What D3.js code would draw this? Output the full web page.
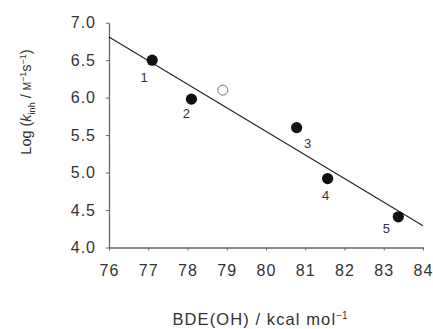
<!DOCTYPE html>
<html>
<head>
<meta charset="utf-8">
<script src="https://cdn.jsdelivr.net/npm/d3@7"></script>
<style>
  body { margin: 0; background: #fff; }
  text { font-family: Arial, "Liberation Sans", Helvetica, sans-serif; }
</style>
</head>
<body>
<div id="chart"></div>
<script>
const width = 433;
const height = 329;

// data
const labels = ["1", "2", "3", "4", "5"];
const bde = [77.1, 78.1, 80.78, 81.57, 83.37];
const logk = [6.5, 5.98, 5.60, 4.92, 4.41];
const openBde = [78.9];
const openLogk = [6.10];
const fitX = [76, 84];
const fitY = [6.81, 4.29];
const xTicks = [76, 77, 78, 79, 80, 81, 82, 83, 84];
const yTicks = [4.0, 4.5, 5.0, 5.5, 6.0, 6.5, 7.0];

// label offsets for each numbered point
const labelDx = [-8, -5, 11, -2, -12];
const labelDy = [18, 15, 16, 17, 12];

var xScale = d3.scaleLinear().domain([76, 84]).range([109, 423]);
var yScale = d3.scaleLinear().domain([4, 7]).range([247.5, 22.7]);

var svg = d3.select('#chart')
    .append('svg')
    .attr('width', width)
    .attr('height', height);

// axes
var xAxis = svg.append('g')
    .attr('transform', `translate(0, ${yScale(4)})`)
    .call(d3.axisBottom(xScale).tickValues(xTicks).tickSize(3).tickPadding(14).tickFormat(d3.format('d')).tickSizeOuter(0));

var yAxis = svg.append('g')
    .attr('transform', `translate(${xScale(76)}, 0)`)
    .call(d3.axisLeft(yScale).tickValues(yTicks).tickSize(3).tickPadding(10).tickFormat(d3.format('.1f')).tickSizeOuter(0));

[xAxis, yAxis].forEach(function(ax) {
    ax.select('.domain').attr('stroke', '#666').attr('stroke-width', 1.3);
    ax.selectAll('.tick line').attr('stroke', '#666');
    ax.selectAll('.tick text')
        .attr('fill', '#333')
        .attr('font-size', '16px')
        .attr('letter-spacing', '1px')
        .attr('font-family', 'Arial, "Liberation Sans", sans-serif');
});

// regression line
svg.append('line')
    .attr('x1', xScale(fitX[0]))
    .attr('y1', yScale(fitY[0]))
    .attr('x2', xScale(fitX[1]))
    .attr('y2', yScale(fitY[1]))
    .attr('stroke', '#222')
    .attr('stroke-width', 1.1);

// open point
svg.selectAll('.open')
    .data(openBde)
    .join('circle')
    .attr('class', 'open')
    .attr('cx', d => xScale(d))
    .attr('cy', (d, i) => yScale(openLogk[i]))
    .attr('r', 5)
    .attr('fill', '#fff')
    .attr('stroke', '#777')
    .attr('stroke-width', 1);

// filled points
svg.selectAll('.pt')
    .data(bde)
    .join('circle')
    .attr('class', 'pt')
    .attr('cx', d => xScale(d))
    .attr('cy', (d, i) => yScale(logk[i]))
    .attr('r', 5.6)
    .attr('fill', '#111');

svg.selectAll('.lbl')
    .data(labels)
    .join('text')
    .attr('class', 'lbl')
    .attr('x', (d, i) => xScale(bde[i]) + labelDx[i])
    .attr('y', (d, i) => yScale(logk[i]) + labelDy[i] + 4)
    .attr('text-anchor', 'middle')
    .attr('font-size', '13px')
    .attr('fill', '#333')
    .text(d => d);

// x title
var xt = svg.append('text')
    .attr('x', 260)
    .attr('y', 325)
    .attr('text-anchor', 'middle')
    .attr('font-size', '16.5px')
    .attr('letter-spacing', '1.1px')
    .attr('fill', '#333');
xt.append('tspan').text('BDE(OH) / kcal mol');
xt.append('tspan').attr('dy', -6).attr('font-size', '10px').attr('letter-spacing', '0px').text('\u22121');

// y title
var yt = svg.append('text')
    .attr('transform', 'translate(31, 102) rotate(-90)')
    .attr('text-anchor', 'middle')
    .attr('font-size', '14.5px')
    .attr('fill', '#333');
yt.append('tspan').text('Log (');
yt.append('tspan').attr('font-style', 'italic').text('k');
yt.append('tspan').attr('dy', 4).attr('font-size', '9px').text('inh');
yt.append('tspan').attr('dy', -4).text(' / ');
yt.append('tspan').attr('font-size', '10px').text('M');
yt.append('tspan').attr('dy', -5).attr('font-size', '9px').text('\u22121');
yt.append('tspan').attr('dy', 5).text('s');
yt.append('tspan').attr('dy', -5).attr('font-size', '9px').text('\u22121');
yt.append('tspan').attr('dy', 5).text(')');
</script>
</body>
</html>
